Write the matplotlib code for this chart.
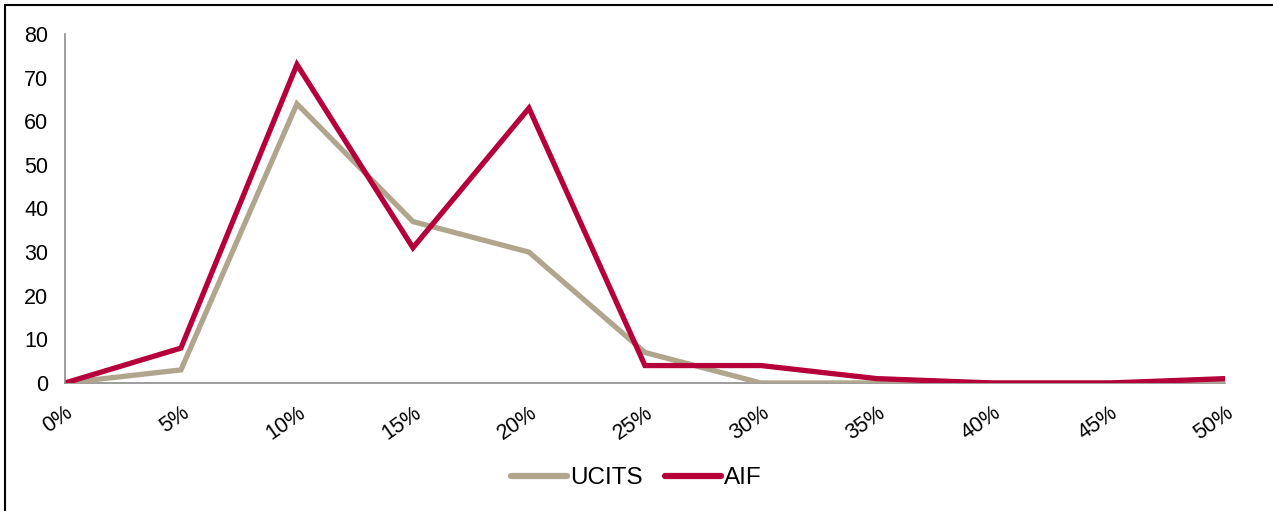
import matplotlib.pyplot as plt
from matplotlib.patches import Rectangle

plt.rcParams['font.family'] = ['Liberation Sans', 'DejaVu Sans']

labels = ['0%', '5%', '10%', '15%', '20%', '25%', '30%', '35%', '40%', '45%', '50%']
ucits = [0, 3, 64, 37, 30, 7, 0, 0, 0, 0, 0]
aif = [0, 8, 73, 31, 63, 4, 4, 1, 0, 0, 1]

fig = plt.figure(figsize=(12.73, 5.11), dpi=100)
ax = fig.add_axes([0.051, 0.2505, 0.9113, 0.683])

x = range(len(labels))
ax.plot(x, ucits, color='#B0A68E', lw=3.8, label='UCITS', solid_joinstyle='miter')
ax.plot(x, aif, color='#B5003A', lw=3.8, label='AIF', solid_joinstyle='miter')

ax.set_xlim(0, len(labels) - 1)
ax.set_ylim(0, 80)
ax.set_yticks(range(0, 81, 10))
ax.set_xticks(list(x))
ax.set_xticklabels(labels, rotation=35, ha='right', rotation_mode='anchor')
ax.tick_params(axis='both', length=0, labelsize=15.5, colors='black')
ax.tick_params(axis='x', pad=14)
ax.tick_params(axis='y', pad=12)
for side in ['top', 'right']:
    ax.spines[side].set_visible(False)
for side in ['left', 'bottom']:
    ax.spines[side].set_color('#8C8C8C')
    ax.spines[side].set_linewidth(1.2)
ax.spines['bottom'].set_zorder(0)

leg = fig.legend(loc='center', bbox_to_anchor=(0.5, 0.064), ncol=2, frameon=False,
                 fontsize=17.5, handlelength=2.3, handletextpad=0.15, columnspacing=0.9)
for line in leg.get_lines():
    line.set_linewidth(4.5)
    line.set_solid_capstyle('round')

fig.patches.append(Rectangle((0.004, -0.01), 1.2, 1.0, transform=fig.transFigure,
                             fill=False, edgecolor='black', lw=1.5))

fig.savefig('out.png', dpi=100)
